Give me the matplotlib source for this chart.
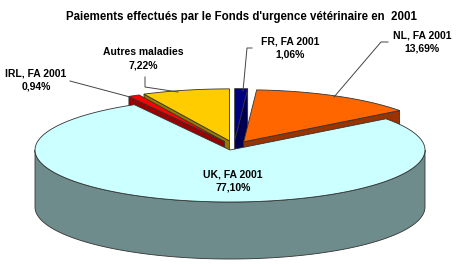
import numpy as np
import matplotlib
matplotlib.use('Agg')
import matplotlib.pyplot as plt
from matplotlib.patches import Polygon

plt.rcParams['font.family'] = ['Liberation Sans', 'DejaVu Sans']

# data, clockwise from 12 o'clock
labels = ['FR, FA 2001', 'NL, FA 2001', 'UK, FA 2001', 'IRL, FA 2001', 'Autres maladies']
values = [1.06, 13.69, 77.10, 0.94, 7.22]
exploded = [True, True, False, True, True]
top_colors = ['#000080', '#FF6600', '#CCFFFF', '#FF0000', '#FFCC00']
side_colors = ['#000050', '#993300', '#6E8C8C', '#990000', '#997A00']

# label placement (pixels) and leader lines
label_pos = [(290, 48), (422, 42), (233, 181), (36, 80), (143, 59)]
leaders = [[(252, 48), (247, 48), (243, 91)],
           [(388, 42), (381, 42), (334, 97)],
           None,
           [(70, 81), (130, 97)],
           [(145, 77), (145, 87), (178, 92)]]

# pie geometry in pixels
cx, cy, a, b, depth = 230, 150, 195, 52, 57
# explosion (a bit of perspective: slices also drift right)
ex_x, ex_y, ex_shift = 0.104, 0.18, 4

fig = plt.figure(figsize=(4.67, 2.65), dpi=100)
ax = fig.add_axes([0, 0, 1, 1])
ax.set_xlim(0, 467)
ax.set_ylim(265, 0)
ax.axis('off')


def pt(t, dx, dy, z=0, r=1.0):
    t = np.radians(t)
    return (cx + a * r * np.cos(t) + dx, cy - b * r * np.sin(t) + dy + z)


total = sum(values)
slices = []
start = 90.0
for i, v in enumerate(values):
    t1 = start
    t2 = start - v * 360.0 / total
    start = t2
    mid = np.radians((t1 + t2) / 2)
    dx = dy = 0.0
    if exploded[i]:
        dx = ex_x * a * np.cos(mid) + ex_shift
        dy = -ex_y * b * np.sin(mid)
    slices.append((i, t1, t2, dx, dy, np.sin(mid)))

# back slices first
slices.sort(key=lambda s: -s[5])
ec = '#333333'
lw = 0.6

for i, t1, t2, dx, dy, _ in slices:
    c0 = pt(0, dx, dy, r=0)
    c0b = pt(0, dx, dy, z=depth, r=0)
    # radial faces facing the viewer
    for t, vis in ((t2, np.cos(np.radians(t2)) > 1e-6), (t1, np.cos(np.radians(t1)) < -1e-6)):
        if vis:
            face = [c0, pt(t, dx, dy), pt(t, dx, dy, z=depth), c0b]
            ax.add_patch(Polygon(face, closed=True, fc=side_colors[i], ec=ec, lw=lw))
    # outer wall (front half only)
    for k in (-1, 0, 1):
        lo = max(t2, 180 + 360 * k)
        hi = min(t1, 360 + 360 * k)
        if hi > lo:
            ts = np.linspace(lo, hi, 120)
            upper = [pt(t, dx, dy) for t in ts]
            lower = [pt(t, dx, dy, z=depth) for t in ts[::-1]]
            ax.add_patch(Polygon(upper + lower, closed=True, fc=side_colors[i], ec=ec, lw=lw))
    # top face
    ts = np.linspace(t1, t2, 200)
    top = [c0] + [pt(t, dx, dy) for t in ts]
    ax.add_patch(Polygon(top, closed=True, fc=top_colors[i], ec=ec, lw=lw))

for i in range(len(values)):
    txt = labels[i] + '\n' + ('%.2f' % values[i]).replace('.', ',') + '%'
    x, y = label_pos[i]
    ax.text(x, y, txt, ha='center', va='center', fontsize=7.5, fontweight='bold',
            linespacing=1.45, color='black')
    if leaders[i]:
        xs, ys = zip(*leaders[i])
        ax.plot(xs, ys, color='#444444', lw=0.7)

ax.text(241, 17, "Paiements effectués par le Fonds d'urgence vétérinaire en  2001",
        ha='center', va='center', fontsize=8.3, fontweight='bold')

fig.savefig('out.png', dpi=100)
